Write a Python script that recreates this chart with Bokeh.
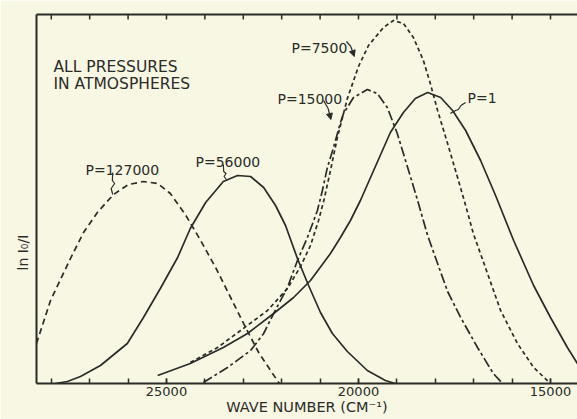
import numpy as np
from bokeh.plotting import figure
from bokeh.models import Range1d, LinearAxis, FixedTicker, Label, Arrow, NormalHead, Title
from bokeh.embed import file_html
from bokeh.resources import INLINE

# ---- data: wave number (cm^-1) vs ln(I0/I) (arbitrary units) ----
p127000_wn = [28385, 28020, 27500, 27160, 26800, 26380, 25990, 25600, 25230, 24900,
              24510, 24110, 23720, 23330, 22940, 22600, 22290, 22060]
p127000_a = [0.40, 0.83, 1.25, 1.51, 1.71, 1.89, 1.99, 2.02, 2.00, 1.90,
             1.69, 1.43, 1.16, 0.86, 0.56, 0.31, 0.13, 0.00]

p56000_wn = [27890, 27580, 27240, 26720, 26020, 25600, 25160, 24710, 24380, 23980,
             23520, 23150, 22810, 22470, 22160, 21900, 21590, 21300, 20990, 20680,
             20290, 19770, 19300, 19040]
p56000_a = [0.00, 0.02, 0.07, 0.18, 0.40, 0.66, 0.95, 1.26, 1.55, 1.81,
            2.02, 2.08, 2.07, 1.96, 1.78, 1.58, 1.25, 0.98, 0.71, 0.50,
            0.32, 0.13, 0.03, 0.00]

p15000_wn = [24040, 23410, 22810, 22470, 22210, 21850, 21590, 21330, 21070, 20940,
             20810, 20650, 20470, 20390, 20130, 19770, 19510, 19250, 18990, 18720,
             18460, 18200, 17940, 17680, 17340, 16900, 16490, 16250]
p15000_a = [0.01, 0.16, 0.33, 0.50, 0.70, 0.96, 1.23, 1.46, 1.73, 1.93,
            2.16, 2.36, 2.61, 2.70, 2.86, 2.94, 2.90, 2.76, 2.50, 2.16,
            1.83, 1.48, 1.20, 0.92, 0.66, 0.36, 0.10, 0.00]

p7500_wn = [24380, 23670, 23070, 22370, 21850, 21510, 21250, 21040, 20890, 20730,
            20550, 20290, 20000, 19740, 19350, 19090, 18830, 18570, 18310, 18130,
            17940, 17680, 17420, 17210, 17010, 16640, 16300, 15860, 15440, 15000]
p7500_a = [0.21, 0.36, 0.53, 0.73, 0.95, 1.17, 1.38, 1.63, 1.85, 2.13,
           2.46, 2.85, 3.17, 3.38, 3.56, 3.63, 3.60, 3.46, 3.23, 3.00,
           2.73, 2.40, 2.06, 1.78, 1.50, 1.10, 0.73, 0.40, 0.16, 0.00]

p1_wn = [25230, 24380, 23520, 22890, 22210, 21690, 21250, 20730, 20470, 20210,
         19950, 19560, 19170, 18830, 18520, 18200, 17860, 17550, 17210, 16820,
         16430, 15960, 15440, 15000, 14560, 14220]
p1_a = [0.08, 0.20, 0.36, 0.50, 0.70, 0.86, 1.03, 1.30, 1.46, 1.63,
        1.83, 2.17, 2.51, 2.71, 2.85, 2.91, 2.86, 2.73, 2.53, 2.23,
        1.88, 1.43, 0.98, 0.66, 0.36, 0.15]

labelled_ticks = [25000, 20000, 15000]
all_ticks = [15000, 16000, 17000, 18000, 19000, 20000, 21000, 22000,
             23000, 24000, 25000, 26000, 27000, 28000]

series_labels = ["P=127000", "P=56000", "P=15000", "P=7500", "P=1"]

# ---- annotation geometry (label anchors and pointer strokes) ----
label_pos = {"P=127000": (27109, 2.14), "P=56000": (24245, 2.22), "P=15000": (22110, 2.85),
             "P=7500": (21745, 3.36), "P=1": (17162, 2.86)}
ptr_127000 = ([26400, 26410, 26350, 26440, 26400], [2.11, 2.03, 2.00, 1.95, 1.89])
ptr_56000 = ([23520, 23510, 23450, 23500, 23440], [2.19, 2.12, 2.10, 2.07, 2.04])
ptr_7500 = ([20313, 20200, 20110], [3.42, 3.37, 3.27])
ptr_15000 = ([20912, 20790, 20720], [2.83, 2.75, 2.64])
ptr_1 = ([17214, 17330, 17400, 17470, 17610], [2.81, 2.78, 2.74, 2.73, 2.70])

INK = "#2b2b27"
PAPER = "#f7f7e4"
FONT = "DejaVu Sans"
Y_TOP = 3.69
TICK_LEN = 0.05

p = figure(width=577, height=419, x_range=Range1d(28385, 14297), y_range=Range1d(0, Y_TOP),
           output_backend="svg", toolbar_location=None,
           min_border_left=36, min_border_right=0, min_border_top=14, min_border_bottom=36,
           background_fill_color=PAPER, border_fill_color=PAPER, outline_line_color=None)
p.grid.visible = False

# bottom axis
xa = p.xaxis[0]
xa.ticker = FixedTicker(ticks=labelled_ticks, minor_ticks=all_ticks)
xa.major_tick_in = 5
xa.major_tick_out = 0
xa.minor_tick_in = 5
xa.minor_tick_out = 0
xa.axis_line_width = 2
xa.axis_line_color = INK
xa.major_tick_line_color = INK
xa.minor_tick_line_color = INK
xa.major_tick_line_width = 1.5
xa.minor_tick_line_width = 1.5
xa.major_label_text_font = FONT
xa.major_label_text_font_size = "13px"
xa.major_label_text_color = INK
xa.major_label_standoff = 3
xa.axis_label = "WAVE NUMBER (CM\u207b\u00b9)"
xa.axis_label_text_font = FONT
xa.axis_label_text_font_size = "14.5px"
xa.axis_label_text_font_style = "normal"
xa.axis_label_text_color = INK
xa.axis_label_standoff = 0

# left axis: plain line
ya = p.yaxis[0]
ya.ticker = FixedTicker(ticks=[])
ya.major_tick_line_color = None
ya.minor_tick_line_color = None
ya.axis_line_width = 2
ya.axis_line_color = INK

# top axis line, inward ticks drawn as segments
top = LinearAxis(ticker=FixedTicker(ticks=[]), axis_line_width=2, axis_line_color=INK,
                 major_tick_line_color=None, minor_tick_line_color=None)
p.add_layout(top, "above")
p.segment(x0=all_ticks, y0=[Y_TOP] * len(all_ticks), x1=all_ticks,
          y1=[Y_TOP - TICK_LEN] * len(all_ticks), line_color=INK, line_width=1.5)

lw = 1.7
p.line(p127000_wn, p127000_a, line_color=INK, line_width=lw, line_dash="6 4", line_join="round")
p.line(p56000_wn, p56000_a, line_color=INK, line_width=lw, line_join="round")
p.line(p15000_wn, p15000_a, line_color=INK, line_width=lw, line_dash="10 3 3 3", line_join="round")
p.line(p7500_wn, p7500_a, line_color=INK, line_width=lw, line_dash="4 3", line_join="round")
p.line(p1_wn, p1_a, line_color=INK, line_width=lw, line_join="round")

# pointers
for xs, ys in (ptr_127000, ptr_56000, ptr_1):
    p.line(xs, ys, line_color=INK, line_width=1.2, line_join="round")
for xs, ys in (ptr_7500, ptr_15000):
    p.line(xs[:-1], ys[:-1], line_color=INK, line_width=1.2, line_join="round")
    p.add_layout(Arrow(end=NormalHead(size=6, fill_color=INK, line_color=INK),
                       x_start=xs[-2], y_start=ys[-2], x_end=xs[-1], y_end=ys[-1],
                       line_color=INK, line_width=1.2))

for name in series_labels:
    x, y = label_pos[name]
    p.add_layout(Label(x=x, y=y, text=name, text_font=FONT, text_font_size="14px",
                       text_color=INK, text_align="left", text_baseline="alphabetic"))

p.add_layout(Label(x=27942, y=3.17, text="ALL PRESSURES", text_font=FONT,
                   text_font_size="15.5px", text_color=INK, text_baseline="alphabetic"))
p.add_layout(Label(x=27942, y=3.00, text="IN ATMOSPHERES", text_font=FONT,
                   text_font_size="15.5px", text_color=INK, text_baseline="alphabetic"))

# y-axis title
p.add_layout(Title(text="ln I\u2080/I", align="left", offset=113, standoff=12,
                   text_font=FONT, text_font_size="14px", text_font_style="normal",
                   text_color=INK), "left")

open("out.html", "w").write(file_html(p, INLINE))
